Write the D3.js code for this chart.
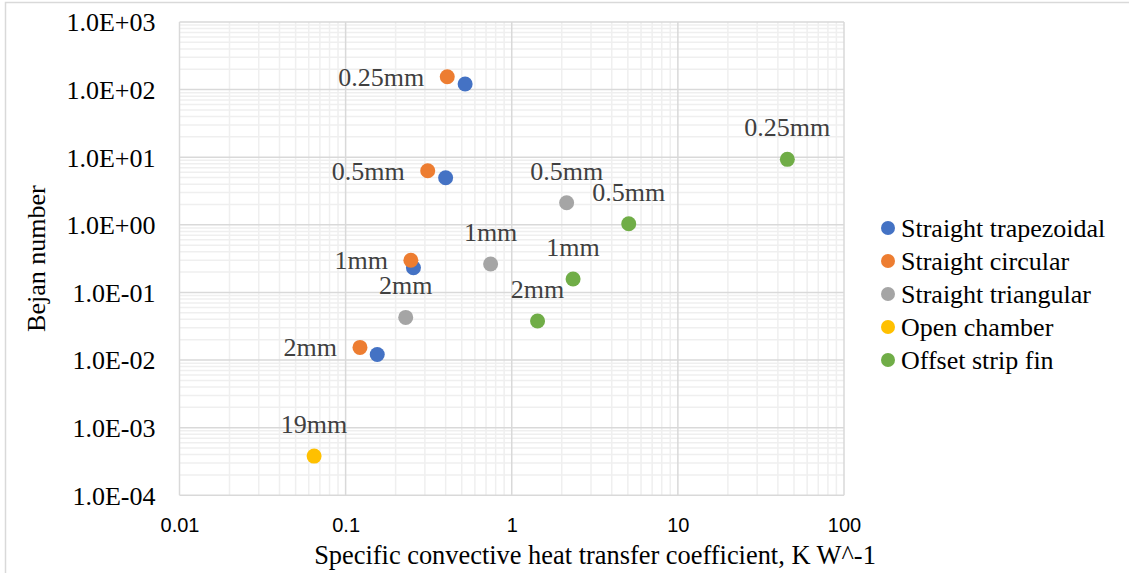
<!DOCTYPE html>
<html>
<head>
<meta charset="utf-8">
<script src="https://cdn.jsdelivr.net/npm/d3@7"></script>
<style>
  html, body { margin: 0; padding: 0; background: #fff; }
  svg { display: block; }
</style>
</head>
<body>
<svg id="chart" width="1129" height="573"></svg>
<script>
// Series names and colours
const seriesNames = ["Straight trapezoidal", "Straight circular", "Straight triangular", "Open chamber", "Offset strip fin"];
const seriesColors = ["#4472C4", "#ED7D31", "#A5A5A5", "#FFC000", "#70AD47"];

// Specific convective heat transfer coefficient (K W^-1) per series
const trapezoidalX = [0.524, 0.40, 0.256, 0.155];
const circularX    = [0.409, 0.312, 0.247, 0.122];
const triangularX  = [2.14, 0.746, 0.230];
const openX        = [0.0646];
const offsetX      = [45.6, 5.06, 2.34, 1.43];

// Bejan number per series
const trapezoidalY = [121, 4.98, 0.232, 0.0121];
const circularY    = [155, 6.3, 0.30, 0.0154];
const triangularY  = [2.12, 0.263, 0.0428];
const openY        = [0.00038];
const offsetY      = [9.3, 1.04, 0.158, 0.0378];

// Point labels (fin size); empty string = no label
const trapezoidalLabels = ["", "", "", ""];
const circularLabels    = ["0.25mm", "0.5mm", "1mm", "2mm"];
const triangularLabels  = ["0.5mm", "1mm", "2mm"];
const openLabels        = ["19mm"];
const offsetLabels      = ["0.25mm", "0.5mm", "1mm", "2mm"];

// Axis ticks
const xTicks = [0.01, 0.1, 1, 10, 100];
const xTickLabels = ["0.01", "0.1", "1", "10", "100"];
const yTicks = [1e-4, 1e-3, 1e-2, 1e-1, 1, 10, 100, 1000];
const yTickLabels = ["1.0E-04", "1.0E-03", "1.0E-02", "1.0E-01", "1.0E+00", "1.0E+01", "1.0E+02", "1.0E+03"];

const xTitle = "Specific convective heat transfer coefficient, K W^-1";
const yTitle = "Bejan number";

// Build a table of series from the arrays above
const seriesX = [trapezoidalX, circularX, triangularX, openX, offsetX];
const seriesY = [trapezoidalY, circularY, triangularY, openY, offsetY];
const seriesLabels = [trapezoidalLabels, circularLabels, triangularLabels, openLabels, offsetLabels];
// where each series puts its labels relative to the point
const labelSide = ["none", "left", "above", "above", "above"];

const series = seriesNames.map((name, i) => ({
  name, color: seriesColors[i], side: labelSide[i],
  points: seriesX[i].map((x, j) => ({ x, y: seriesY[i][j], label: seriesLabels[i][j] }))
}));

const svg = d3.select("#chart");
const W = 1129, H = 573;
const plot = { left: 179.5, right: 844, top: 22, bottom: 495.3 };

const serif = "'Liberation Serif', 'Times New Roman', serif";
const sans = "'Liberation Sans', Arial, sans-serif";

// outer chart border
svg.append("rect")
  .attr("x", 5.5).attr("y", 2.5)
  .attr("width", W + 10).attr("height", H + 10)
  .attr("fill", "#fff").attr("stroke", "#d9d9d9").attr("stroke-width", 1.5);

const x = d3.scaleLog().domain([0.01, 100]).range([plot.left, plot.right]);
const y = d3.scaleLog().domain([1e-4, 1e3]).range([plot.bottom, plot.top]);

// minor gridlines (2..9 of each decade)
const minorX = [], minorY = [];
for (let e = -2; e < 2; e++) for (let m = 2; m <= 9; m++) minorX.push(m * Math.pow(10, e));
for (let e = -4; e < 3; e++) for (let m = 2; m <= 9; m++) minorY.push(m * Math.pow(10, e));

const grid = svg.append("g");
grid.selectAll(".mx").data(minorX).join("line")
  .attr("x1", d => x(d)).attr("x2", d => x(d))
  .attr("y1", plot.top).attr("y2", plot.bottom)
  .attr("stroke", "#efefef").attr("stroke-width", 1.5);
grid.selectAll(".my").data(minorY).join("line")
  .attr("y1", d => y(d)).attr("y2", d => y(d))
  .attr("x1", plot.left).attr("x2", plot.right)
  .attr("stroke", "#efefef").attr("stroke-width", 1.5);

// major gridlines
grid.selectAll(".Mx").data(xTicks).join("line")
  .attr("x1", d => x(d)).attr("x2", d => x(d))
  .attr("y1", plot.top).attr("y2", plot.bottom)
  .attr("stroke", "#d9d9d9").attr("stroke-width", 1.5);
grid.selectAll(".My").data(yTicks).join("line")
  .attr("y1", d => y(d)).attr("y2", d => y(d))
  .attr("x1", plot.left).attr("x2", plot.right)
  .attr("stroke", "#d9d9d9").attr("stroke-width", 1.5);

// axes via d3 axis generators, styled as plain labels
const xAxis = svg.append("g")
  .attr("transform", `translate(0,${plot.bottom})`)
  .call(d3.axisBottom(x).tickValues(xTicks).tickFormat((d, i) => xTickLabels[i]).tickSize(0).tickPadding(23));
xAxis.select(".domain").remove();
xAxis.selectAll("text")
  .attr("font-family", sans).attr("font-size", 20).attr("fill", "#000");

const yAxis = svg.append("g")
  .attr("transform", `translate(${plot.left},0)`)
  .call(d3.axisLeft(y).tickValues(yTicks).tickFormat((d, i) => yTickLabels[i]).tickSize(0).tickPadding(24));
yAxis.select(".domain").remove();
yAxis.selectAll("text")
  .attr("font-family", serif).attr("font-size", 26).attr("fill", "#000").attr("dy", "0.34em");

// axis titles
svg.append("text")
  .attr("x", 595).attr("y", 564)
  .attr("text-anchor", "middle")
  .attr("font-family", serif).attr("font-size", 26.4).attr("fill", "#000")
  .text(xTitle);
svg.append("text")
  .attr("transform", `translate(45,${(plot.top + plot.bottom) / 2}) rotate(-90)`)
  .attr("text-anchor", "middle")
  .attr("font-family", serif).attr("font-size", 26).attr("fill", "#000")
  .text(yTitle);

// markers
const marks = svg.append("g");
series.forEach(s => {
  marks.selectAll(null).data(s.points).join("circle")
    .attr("cx", d => x(d.x)).attr("cy", d => y(d.y))
    .attr("r", 7.5).attr("fill", s.color);
});

// point labels
const labels = svg.append("g")
  .attr("font-family", serif).attr("font-size", 26).attr("fill", "#404040");
series.forEach(s => {
  if (s.side === "none") return;
  s.points.filter(p => p.label).forEach(p => {
    const t = labels.append("text").text(p.label);
    if (s.side === "left") {
      t.attr("x", x(p.x) - 23).attr("y", y(p.y)).attr("dy", "0.34em").attr("text-anchor", "end");
    } else {
      t.attr("x", x(p.x)).attr("y", y(p.y) - 23).attr("text-anchor", "middle");
    }
  });
});

// legend
const legend = svg.append("g").attr("transform", "translate(888,228)");
const item = legend.selectAll("g").data(series).join("g")
  .attr("transform", (d, i) => `translate(0,${i * 33})`);
item.append("circle").attr("r", 7).attr("fill", d => d.color);
item.append("text")
  .attr("x", 13).attr("dy", "0.34em")
  .attr("font-family", serif).attr("font-size", 26).attr("fill", "#000")
  .text(d => d.name);
</script>
</body>
</html>
